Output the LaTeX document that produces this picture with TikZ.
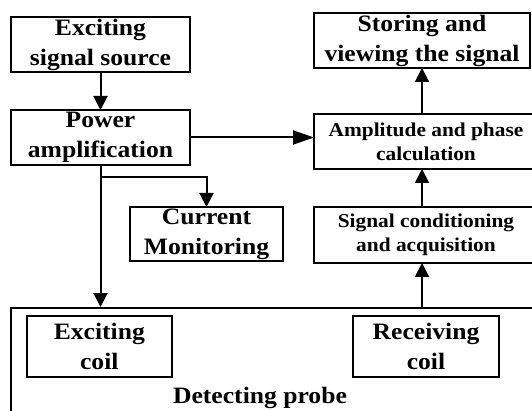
\documentclass[tikz,border=0pt]{standalone}
\usepackage{fontspec}
\setmainfont{Liberation Serif}[FakeStretch=1.09]
\usetikzlibrary{arrows.meta}

\tikzset{
  box/.style={draw, line width=2pt, inner sep=0pt, outer sep=0pt, align=center,
    font=\bfseries\fontsize{23.5}{30}\selectfont},
  smallbox/.style={box, font=\bfseries\fontsize{19.6}{24}\selectfont},
  arr/.style={line width=2pt, -{Triangle[length=14pt,width=14pt]}}
}

\begin{document}
\begin{tikzpicture}[x=1pt, y=-1pt]
    \clip (0,0) rectangle (532,411);
    \fill[white] (0,0) rectangle (532,411);

    % left column
    \node[box, minimum width=179pt, minimum height=55pt] (src) at (100.5,44.5) {Exciting\\signal source};
    \node[box, minimum width=179pt, minimum height=55pt] (amp) at (100.5,137.5) {Power\\amplification};
    \node[box, minimum width=153pt, minimum height=54pt] (mon) at (206.5,234) {Current\\Monitoring};

    % right column
    \node[box, minimum width=216pt, minimum height=55pt] (store) at (422,40.5) {Storing and\\viewing the signal};
    \node[smallbox, minimum width=224pt, minimum height=55pt] (calc) at (426,141.5) {Amplitude and phase\\calculation};
    \node[smallbox, minimum width=224pt, minimum height=56pt] (cond) at (426,235) {Signal conditioning\\and acquisition};

    % probe
    \node[draw, line width=2pt, minimum width=535pt, minimum height=123pt, anchor=north west] (probe) at (10,307) {};
    \node[box, minimum width=145pt, minimum height=61pt] (excoil) at (99.3,346.5) {Exciting\\coil};
    \node[box, minimum width=146pt, minimum height=61pt] (recoil) at (426,346.5) {Receiving\\coil};
    \node[font=\bfseries\fontsize{23.5}{30}\selectfont, inner sep=0pt] (probetext) at (260,397.5) {Detecting probe};

    \draw[arr] (src) -- (amp);
    \draw[arr, -{Triangle[length=21pt,width=14pt]}] (amp.east) -- (amp.east -| calc.west);
    \draw[arr] (amp.south) -- (amp.south |- probe.north);
    \draw[arr] (amp.south) ++(0,12) -| (mon.north);
    \draw[arr] (probe.north -| store.south) -- (cond.south -| store.south);
    \draw[arr] (cond.north -| store.south) -- (calc.south -| store.south);
    \draw[arr] (calc.north -| store.south) -- (store.south);
\end{tikzpicture}
\end{document}
